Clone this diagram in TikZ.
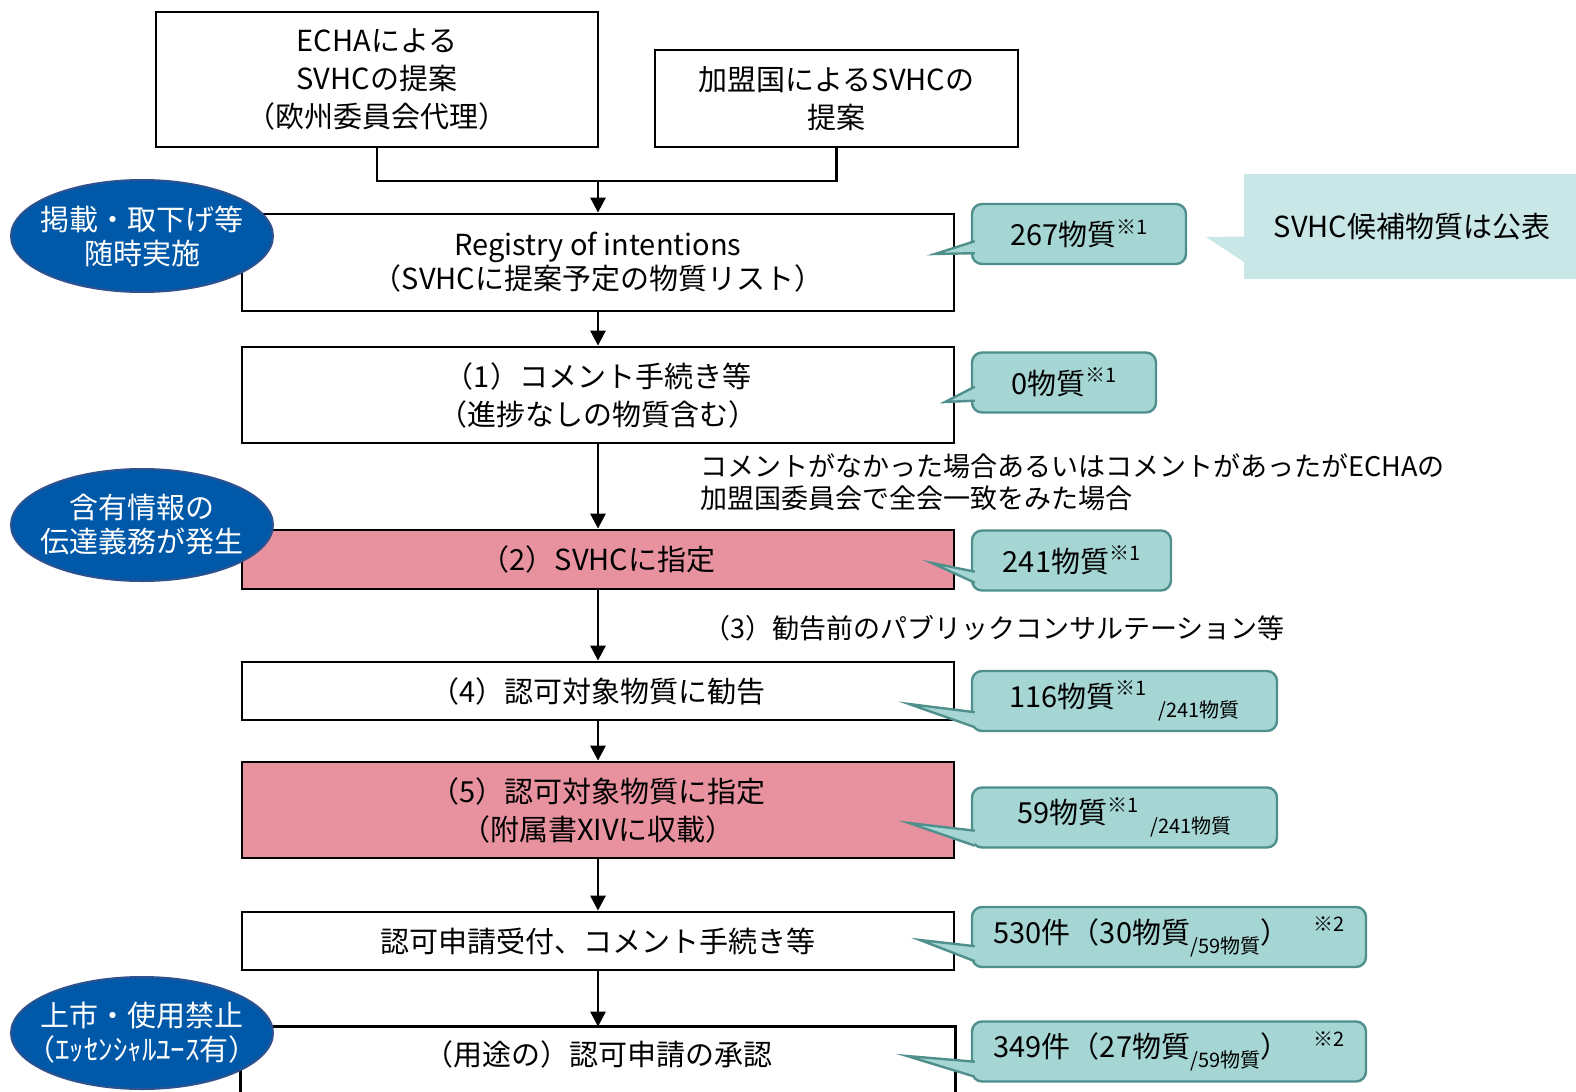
\documentclass[tikz,border=0pt]{standalone}
\usepackage{fontspec}
\setmainfont{Noto Sans CJK JP}
\usepackage{xcolor}
\usetikzlibrary{arrows.meta,positioning,calc,shapes.geometric}

\definecolor{steppink}{HTML}{E8929F}
\definecolor{dutyblue}{HTML}{0059A8}
\definecolor{dutyline}{HTML}{2F528F}
\definecolor{countfill}{HTML}{A5D6D4}
\definecolor{countline}{HTML}{4F8F8C}
\definecolor{pubfill}{HTML}{C9E7E7}

\newcommand{\refmark}[1]{\raisebox{0.4em}{\fontsize{10}{10}\selectfont #1}}
\newcommand{\outof}[1]{\raisebox{-0.35em}{\fontsize{10}{10}\selectfont #1}}

\begin{document}
\begin{tikzpicture}[
    x=0.5pt, y=-0.5pt,
    stepbox/.style={draw, line width=1.4pt, minimum width=356pt, inner sep=0pt, align=center, font=\fontsize{14.5}{19}\selectfont},
    duty/.style={ellipse, draw=dutyline, line width=1pt, fill=dutyblue, text=white, minimum width=131pt, minimum height=56pt, inner xsep=-5pt, inner ysep=3pt, align=center, font=\fontsize{14.5}{17}\selectfont},
    count/.style={draw=countline, fill=countfill, line width=1.2pt, rounded corners=5pt, minimum height=30pt, inner sep=0pt, font=\fontsize{14.5}{17}\selectfont},
    tipline/.style={draw=countline, fill=countfill, line width=1.2pt},
    note/.style={inner sep=0pt, align=left, font=\fontsize{13.5}{16}\selectfont},
    arr/.style={-{Triangle[length=7.5pt,width=7.5pt]}, line width=1.4pt},
    link/.style={line width=1.4pt},
]
    \useasboundingbox (0,0) rectangle (1576,1092);

    % proposals
    \node[stepbox, minimum width=221pt, minimum height=67.5pt] (echa) at (377,79.5) {ECHAによる\\SVHCの提案\\（欧州委員会代理）};
    \node[stepbox, minimum width=181.5pt, minimum height=48.5pt] (member) at (836.5,98.5) {加盟国によるSVHCの\\提案};
    \coordinate (join) at (598,181);

    % main flow
    \node[stepbox, minimum height=48.5pt, font=\fontsize{14.5}{17}\selectfont] (reg) at (598,262.5) {Registry of intentions\\（SVHCに提案予定の物質リスト）};
    \node[stepbox, minimum height=48pt] (s1) at (598,395) {（1）コメント手続き等\\（進捗なしの物質含む）};
    \node[stepbox, minimum height=29.5pt, fill=steppink] (s2) at (598,559.5) {（2）SVHCに指定};
    \node[stepbox, minimum height=29pt] (s4) at (598,691) {（4）認可対象物質に勧告};
    \node[stepbox, minimum height=48pt, fill=steppink] (s5) at (598,810) {（5）認可対象物質に指定\\（附属書XIVに収載）};
    \node[stepbox, minimum height=29pt] (s6) at (598,941) {認可申請受付、コメント手続き等};
    \node[stepbox, draw=none, minimum height=26pt] (s7) at (598,1054) {（用途の）認可申請の承認};
    \draw[link] ($(s7.south west)+(0,30)$) -- (s7.north west) -- (s7.north east) -- ($(s7.south east)+(0,30)$);

    \draw[link] (echa.south) |- (join) -| (member.south);
    \draw[arr] (join) -- (reg.north);
    \draw[arr] (reg.south) -- (s1.north);
    \draw[arr] (s1.south) -- (s2.north);
    \draw[arr] (s2.south) -- (s4.north);
    \draw[arr] (s4.south) -- (s5.north);
    \draw[arr] (s5.south) -- (s6.north);
    \draw[arr] (s6.south) -- (s7.north);

    \node[note, anchor=west] (cond) at (700,482) {コメントがなかった場合あるいはコメントがあったがECHAの\\加盟国委員会で全会一致をみた場合};
    \node[note, anchor=west] (consult) at (703,628) {（3）勧告前のパブリックコンサルテーション等};

    % duties
    \node[duty] (d1) at (142,236) {掲載・取下げ等\\随時実施};
    \node[duty] (d2) at (142,525) {含有情報の\\伝達義務が発生};
    \node[duty, inner xsep=-13pt] (d3) at (142,1033) {上市・使用禁止\\（ｴｯｾﾝｼｬﾙﾕｰｽ有）};

    % counts
    \node[count, minimum width=107pt] (c1) at (1079,234) {267物質\refmark{※1}};
    \node[count, minimum width=92pt] (c2) at (1064,382.5) {0物質\refmark{※1}};
    \node[count, minimum width=99.5pt] (c3) at (1071.5,560.5) {241物質\refmark{※1}};
    \node[count, minimum width=152.5pt] (c4) at (1124.5,701) {116物質\refmark{※1}\hspace{6pt}\outof{/241物質}};
    \node[count, minimum width=152.5pt] (c5) at (1124.5,817.5) {59物質\refmark{※1}\hspace{6pt}\outof{/241物質}};
    \node[count, minimum width=197pt] (c6) at (1169,937) {530件（30物質\outof{/59物質}）\hspace{12pt}\refmark{※2}};
    \node[count, minimum width=197pt] (c7) at (1169,1051.5) {349件（27物質\outof{/59物質}）\hspace{12pt}\refmark{※2}};

    \draw[tipline] ($(c1.south west)+(4,-24)$) -- (935,254) -- ($(c1.south west)+(4,-12)$);
    \draw[tipline] ($(c2.south west)+(4,-27)$) -- (945,402) -- ($(c2.south west)+(4,-13)$);
    \draw[tipline] ($(c3.south west)+(4,-20)$) -- (932,563) -- ($(c3.south west)+(4,-9)$);
    \draw[tipline] ($(c4.south west)+(4,-20)$) -- (909,704) -- ($(c4.south west)+(4,-5)$);
    \draw[tipline] ($(c5.south west)+(4,-18)$) -- (909,823) -- ($(c5.south west)+(4,-3)$);
    \draw[tipline] ($(c6.south west)+(4,-22)$) -- (920,940) -- ($(c6.south west)+(4,-7)$);
    \draw[tipline] ($(c7.south west)+(4,-21)$) -- (907,1056) -- ($(c7.south west)+(4,-6)$);

    % publication
    \node[fill=pubfill, minimum width=168pt, minimum height=52.5pt, inner sep=0pt, font=\fontsize{14.5}{17}\selectfont] (pub) at (1412,226.5) {SVHC候補物質は公表};
    \fill[pubfill] (1206,237) -- ($(pub.west)+(1,10)$) -- ($(pub.west)+(1,36)$) -- cycle;
\end{tikzpicture}
\end{document}
